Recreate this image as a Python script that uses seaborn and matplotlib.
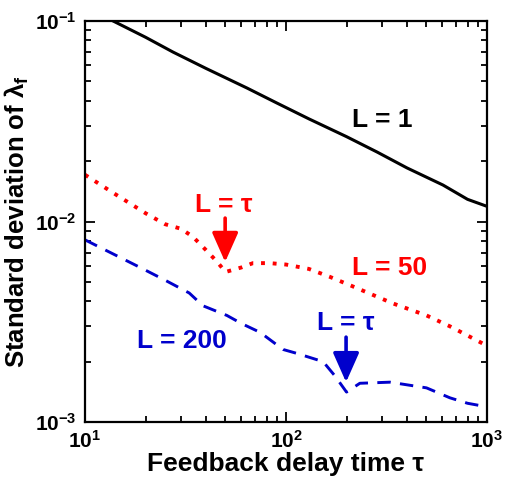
import matplotlib
matplotlib.use("Agg")
import matplotlib.pyplot as plt
import numpy as np
import pandas as pd
import seaborn as sns

# Values (log-log axes)
tau_l1 = [10, 13.8, 20, 27.4, 40, 64, 90, 130, 200, 284, 400, 604, 800, 1000]
std_l1 = [0.118, 0.100, 0.083, 0.070, 0.058, 0.0463, 0.039, 0.0325, 0.0265, 0.0222, 0.0185, 0.0152, 0.0129, 0.0119]

tau_l50 = [10, 13.8, 20, 25, 30, 34.4, 40, 45.4, 50, 60, 68.5, 83, 100, 130, 165, 220, 341, 500, 654, 800, 1000]
std_l50 = [0.0171, 0.0139, 0.0110, 0.0097, 0.0092, 0.0084, 0.0072, 0.0063, 0.0056, 0.0059, 0.0062, 0.0062, 0.0061, 0.0058, 0.0053, 0.0047, 0.0039, 0.0034, 0.0030, 0.0027, 0.0024]

tau_l200 = [10, 18.8, 25, 33, 38.6, 50.8, 60, 74.3, 96.7, 113, 153, 175, 200, 233, 329, 500, 654, 800, 1000]
std_l200 = [0.0081, 0.0059, 0.0051, 0.0044, 0.0038, 0.0034, 0.0031, 0.0028, 0.0023, 0.0022, 0.0020, 0.0017, 0.00141, 0.00156, 0.00158, 0.00148, 0.00132, 0.00124, 0.00119]

RED = "#ff0000"
BLUE = "#0000cc"

sns.set_style("ticks", {"axes.edgecolor": "black", "text.color": "black",
                        "axes.labelcolor": "black", "xtick.color": "black",
                        "ytick.color": "black"})
plt.rcParams["font.family"] = ["Liberation Sans", "DejaVu Sans"]
plt.rcParams["font.weight"] = "bold"
plt.rcParams["mathtext.fontset"] = "custom"
plt.rcParams["mathtext.rm"] = "Liberation Sans:bold"
plt.rcParams["mathtext.it"] = "Liberation Sans:bold"
plt.rcParams["mathtext.bf"] = "Liberation Sans:bold"

df1 = pd.DataFrame({"tau": tau_l1, "std": std_l1})
df50 = pd.DataFrame({"tau": tau_l50, "std": std_l50})
df200 = pd.DataFrame({"tau": tau_l200, "std": std_l200})

fig = plt.figure(figsize=(5.10, 4.82), dpi=100)
ax = fig.add_axes([85 / 510, 1 - 422 / 482, 402 / 510, 401 / 482])

sns.lineplot(data=df1, x="tau", y="std", ax=ax, color="black", lw=2.2)
sns.lineplot(data=df50, x="tau", y="std", ax=ax, color=RED, lw=2.8,
             linestyle=(0, (1, 2.0)))
sns.lineplot(data=df200, x="tau", y="std", ax=ax, color=BLUE, lw=2.1,
             linestyle=(0, (4.6, 3.2)))

ax.set_xscale("log")
ax.set_yscale("log")
ax.set_xlim(10, 1000)
ax.set_ylim(1e-3, 1e-1)

ax.set_xlabel("Feedback delay time τ", fontsize=19, fontweight="bold", labelpad=0)
ax.set_ylabel(r"Standard deviation of $\lambda_f$", fontsize=18.5, fontweight="bold", labelpad=3)

ax.tick_params(which="both", direction="in", top=True, right=True, width=1.3,
               labelsize=15, pad=6, colors="black")
ax.tick_params(which="major", length=7)
ax.tick_params(which="minor", length=4)
for s in ax.spines.values():
    s.set_linewidth(1.6)
    s.set_color("black")
for lab in ax.get_xticklabels() + ax.get_yticklabels():
    lab.set_fontweight("bold")

# labels
ax.text(301, 0.0321, "L = 1", color="black", fontsize=19, fontweight="bold",
        ha="center", va="center")
ax.text(329, 0.00586, "L = 50", color=RED, fontsize=19, fontweight="bold",
        ha="center", va="center")
ax.text(30.4, 0.00254, "L = 200", color=BLUE, fontsize=19, fontweight="bold",
        ha="center", va="center")
ax.text(49, 0.0121, "L = τ", color=RED, fontsize=19, fontweight="bold",
        ha="center", va="center")
ax.text(199, 0.00312, "L = τ", color=BLUE, fontsize=19, fontweight="bold",
        ha="center", va="center")

arrow = dict(arrowstyle="-|>,head_length=0.9,head_width=0.4", lw=2.6,
             shrinkA=0, shrinkB=0, mutation_scale=20)
ax.annotate("", xy=(49.8, 0.00628), xytext=(49.8, 0.0104),
            arrowprops=dict(arrow, color=RED))
ax.annotate("", xy=(199, 0.00158), xytext=(199, 0.00265),
            arrowprops=dict(arrow, color=BLUE))

fig.savefig("out.png", dpi=100)
